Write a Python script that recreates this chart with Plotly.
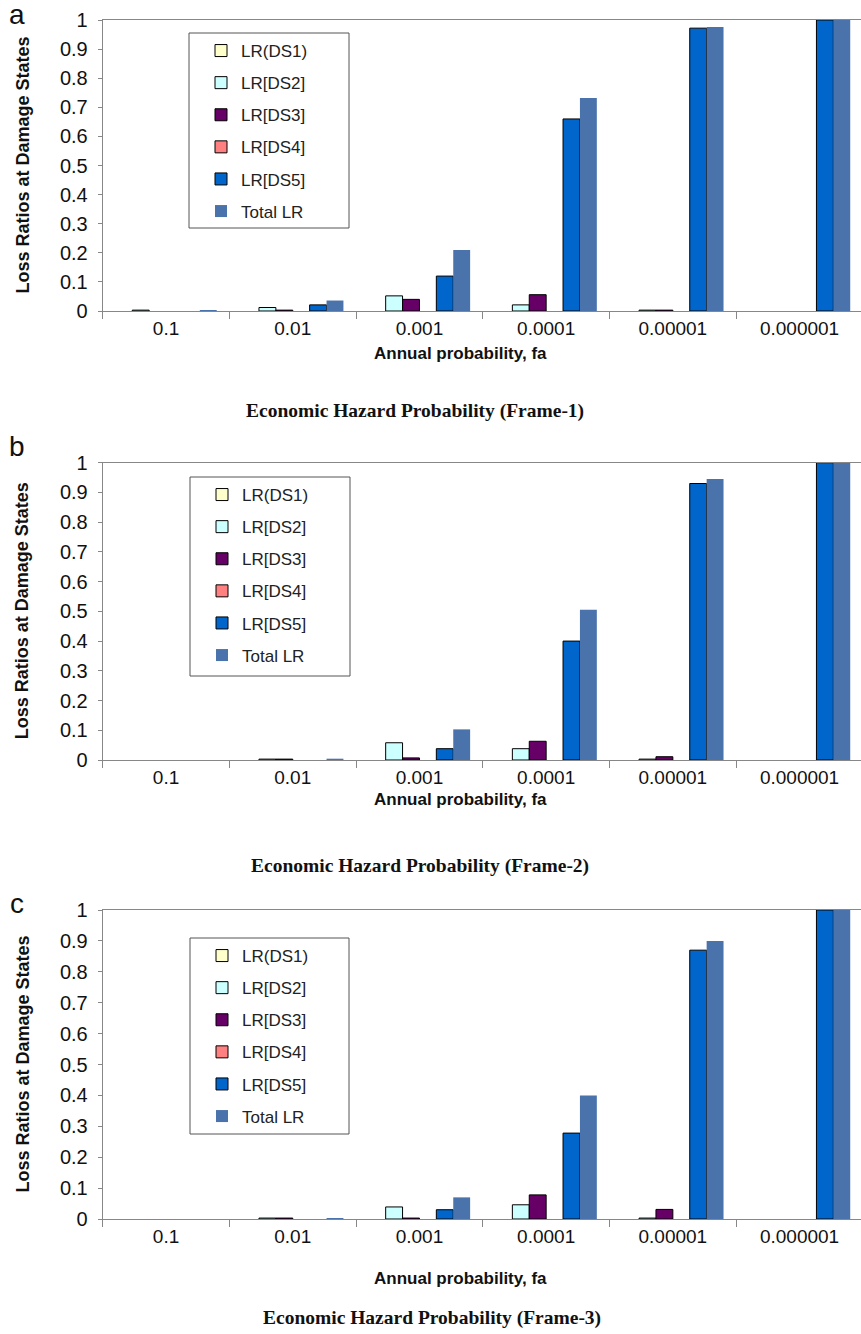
import plotly.graph_objects as go

# ---------------- data ----------------
categories = ["0.1", "0.01", "0.001", "0.0001", "0.00001", "0.000001"]
series_names = ["LR(DS1)", "LR[DS2]", "LR[DS3]", "LR[DS4]", "LR[DS5]", "Total LR"]

# Frame-1
f1_ds1 = [0, 0, 0, 0, 0, 0]
f1_ds2 = [0.003, 0.012, 0.052, 0.021, 0.003, 0]
f1_ds3 = [0, 0.003, 0.040, 0.056, 0.003, 0]
f1_ds4 = [0, 0, 0, 0, 0, 0]
f1_ds5 = [0, 0.021, 0.120, 0.660, 0.972, 1.0]
f1_tot = [0.003, 0.036, 0.210, 0.732, 0.976, 1.0]

# Frame-2
f2_ds1 = [0, 0, 0, 0, 0, 0]
f2_ds2 = [0, 0.003, 0.058, 0.038, 0.003, 0]
f2_ds3 = [0, 0.003, 0.007, 0.063, 0.011, 0]
f2_ds4 = [0, 0, 0, 0, 0, 0]
f2_ds5 = [0, 0, 0.038, 0.400, 0.930, 1.0]
f2_tot = [0, 0.003, 0.103, 0.505, 0.945, 1.0]

# Frame-3
f3_ds1 = [0, 0, 0, 0, 0, 0]
f3_ds2 = [0, 0.003, 0.039, 0.046, 0.003, 0]
f3_ds3 = [0, 0.003, 0.003, 0.078, 0.031, 0]
f3_ds4 = [0, 0, 0, 0, 0, 0]
f3_ds5 = [0, 0, 0.030, 0.278, 0.870, 1.0]
f3_tot = [0, 0.003, 0.070, 0.400, 0.900, 1.0]

panel_letters = ["a", "b", "c"]
panel_titles = ["Economic Hazard Probability (Frame-1)",
                "Economic Hazard Probability (Frame-2)",
                "Economic Hazard Probability (Frame-3)"]
x_title = "Annual probability, fa"
y_title = "Loss Ratios at Damage States"

# ---------------- styles ----------------
W, H = 861, 1334
fills = ["#FFFFCC", "#CCFFFF", "#660066", "#FF8080", "#0066CC", "#4A73AB"]
outlines = ["#000000"] * 5 + ["#4A73AB"]
outline_w = [1, 1, 1, 1, 1, 0]
axis_col = "#878787"

# plot areas in pixels (top, bottom)
panels_px = [(20, 311), (462.7, 760), (910, 1219)]
x_left_px = 102.7

frames = [
    [f1_ds1, f1_ds2, f1_ds3, f1_ds4, f1_ds5, f1_tot],
    [f2_ds1, f2_ds2, f2_ds3, f2_ds4, f2_ds5, f2_tot],
    [f3_ds1, f3_ds2, f3_ds3, f3_ds4, f3_ds5, f3_tot],
]


def py(px):
    return 1 - px / H


fig = go.Figure()
layout = {}
annotations = []
shapes = []

legend_boxes = [(189, 33, 349, 228), (190, 477, 350, 676), (190, 938, 349, 1134)]
letter_y = [15, 446, 903]
xtitle_y = [353, 799, 1278]
title_y = [411, 866, 1318]
title_x = [415, 420, 432]

for p in range(3):
    sfx = "" if p == 0 else str(p + 1)
    xa, ya = "x" + sfx, "y" + sfx
    leg = "legend" + sfx
    for s in range(6):
        vals = [v if v > 0 else None for v in frames[p][s]]
        fig.add_trace(go.Bar(
            x=categories, y=vals, name=series_names[s],
            xaxis=xa, yaxis=ya, legend=leg, legendgroup=f"g{p}{s}",
            marker=dict(color=fills[s], line=dict(color=outlines[s], width=outline_w[s])),
        ))
    top, bot = panels_px[p]
    layout["xaxis" + sfx] = dict(
        domain=[x_left_px / W, 1], anchor=ya, type="category", automargin=False,
        range=[-0.5, 5.485], showline=True, linecolor=axis_col, linewidth=1,
        mirror=True, ticks="outside", ticklen=7, tickcolor=axis_col,
        tickson="boundaries", showgrid=False, zeroline=False,
        tickfont=dict(family="Liberation Sans Narrow, Arial Narrow, Liberation Sans, Arial",
                      size=19, color="#111111"),
    )
    layout["yaxis" + sfx] = dict(
        domain=[py(bot), py(top)], anchor=xa, range=[0, 1], dtick=0.1, automargin=False,
        showline=True, linecolor=axis_col, linewidth=1, ticks="outside",
        ticklen=4, tickcolor=axis_col, showgrid=False, zeroline=False,
        ticklabelstandoff=6,
        tickfont=dict(family="Liberation Sans, Arial", size=20, color="#111111"),
    )
    bx0, by0, bx1, by1 = legend_boxes[p]
    layout[leg] = dict(
        x=(bx0 + 12) / W, y=py(by0), xanchor="left", yanchor="top",
        bgcolor="rgba(0,0,0,0)", borderwidth=0, tracegroupgap=7,
        font=dict(family="Liberation Sans, Arial", size=17, color="#222222"),
    )
    shapes.append(dict(type="rect", xref="paper", yref="paper",
                       x0=bx0 / W, x1=bx1 / W, y0=py(by1), y1=py(by0),
                       line=dict(color="#555555", width=1), fillcolor="rgba(0,0,0,0)",
                       layer="above"))
    annotations.append(dict(text=panel_letters[p], xref="paper", yref="paper",
                            x=17 / W, y=py(letter_y[p]), xanchor="center", yanchor="middle",
                            showarrow=False,
                            font=dict(family="Liberation Sans, Arial", size=28, color="#111111")))
    annotations.append(dict(text=x_title, xref="paper", yref="paper",
                            x=460 / W, y=py(xtitle_y[p]), xanchor="center", yanchor="middle",
                            showarrow=False,
                            font=dict(family="Liberation Sans Narrow, Arial Narrow, Liberation Sans, Arial",
                                      size=17, color="#111111", weight="bold")))
    annotations.append(dict(text=panel_titles[p], xref="paper", yref="paper",
                            x=title_x[p] / W, y=py(title_y[p]), xanchor="center", yanchor="middle",
                            showarrow=False,
                            font=dict(family="Liberation Serif, Times New Roman", size=19.5,
                                      color="#111111", weight="bold")))
    annotations.append(dict(text=y_title, xref="paper", yref="paper", textangle=-90,
                            x=22 / W, y=py((top + bot) / 2), xanchor="center", yanchor="middle",
                            showarrow=False,
                            font=dict(family="Liberation Sans, Arial", size=18,
                                      color="#111111", weight="bold")))

fig.update_layout(
    width=W, height=H, margin=dict(l=0, r=0, t=0, b=0, autoexpand=False),
    paper_bgcolor="white", plot_bgcolor="white",
    barmode="group", bargap=0.2, bargroupgap=0,
    annotations=annotations, shapes=shapes, showlegend=True,
    **layout,
)

fig.write_html("out.html")
